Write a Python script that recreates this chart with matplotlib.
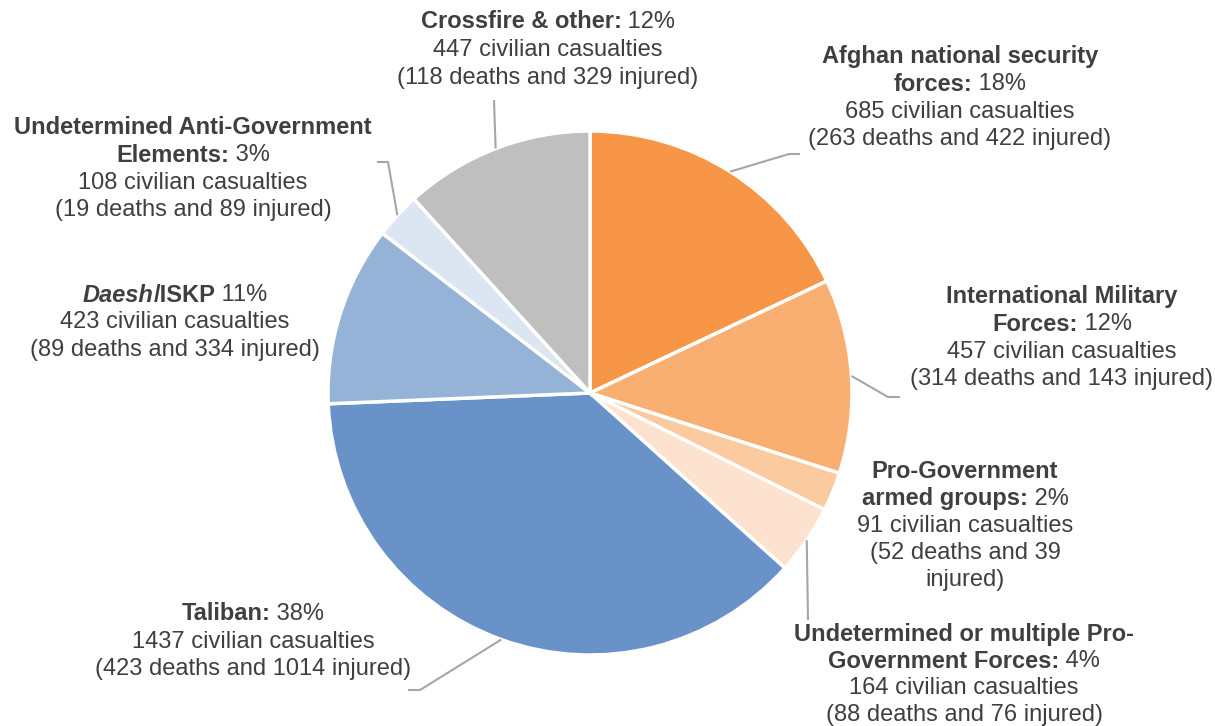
import matplotlib
matplotlib.use("Agg")
import matplotlib.pyplot as plt
import numpy as np

W, H = 1215, 726

# data: casualties by party, clockwise from 12 o'clock
parties = ["Afghan national security forces", "International Military Forces",
           "Pro-Government armed groups", "Undetermined or multiple Pro-Government Forces",
           "Taliban", "Daesh/ISKP", "Undetermined Anti-Government Elements",
           "Crossfire & other"]
casualties = [685, 457, 91, 164, 1437, 423, 108, 447]
deaths = [263, 314, 52, 88, 423, 89, 19, 118]
injured = [422, 143, 39, 76, 1014, 334, 89, 329]
percents = [18, 12, 2, 4, 38, 11, 3, 12]
colors = ["#F79646", "#F9AF72", "#FBCA9E", "#FDE3CF",
          "#6993C8", "#95B3D7", "#DCE6F2", "#BFBFBF"]

plt.rcParams['font.family'] = ['Liberation Sans', 'DejaVu Sans']
TXT = "#3F3F3F"
LINE = "#A6A6A6"
FS = 17

fig = plt.figure(figsize=(W / 100, H / 100), dpi=100)
ax = fig.add_axes([0, 0, 1, 1])

def Y(y):
    return H - y

cx, cy, r = 590, Y(393), 262
wedges, _ = ax.pie(casualties, colors=colors, startangle=90, counterclock=False,
                   center=(cx, cy), radius=r, frame=True,
                   wedgeprops=dict(edgecolor="white", linewidth=2.5))
ax.set_xlim(0, W)
ax.set_ylim(0, H)
ax.set_aspect("equal")
ax.axis("off")

renderer = fig.canvas.get_renderer()

def label(xc, ytop, lines, dy=27.5, fs=FS):
    for i, segs in enumerate(lines):
        y = Y(ytop + i * dy)
        texts = []
        for s, w, st in segs:
            t = ax.text(0, y, s, fontsize=fs, fontweight=w, fontstyle=st,
                        color=TXT, ha="left", va="center")
            texts.append(t)
        widths = [t.get_window_extent(renderer).width for t in texts]
        x = xc - sum(widths) / 2
        for t, wd in zip(texts, widths):
            t.set_x(x)
            x += wd

def reg(s):
    return (s, "normal", "normal")

def bold(s):
    return (s, "bold", "normal")

def cas(i):
    return [[reg("%d civilian casualties" % casualties[i])],
            [reg("(%d deaths and %d injured)" % (deaths[i], injured[i]))]]

label(960, 57, [[bold("Afghan national security")],
                [bold("forces:"), reg(" %d%%" % percents[0])]] + cas(0))
label(1062, 297, [[bold("International Military")],
                  [bold("Forces:"), reg(" %d%%" % percents[1])]] + cas(1))
label(965, 472, [[bold("Pro-Government")],
                 [bold("armed groups:"), reg(" %d%%" % percents[2])],
                 [reg("%d civilian casualties" % casualties[2])],
                 [reg("(%d deaths and %d" % (deaths[2], injured[2]))],
                 [reg("injured)")]], dy=27)
label(964, 634, [[bold("Undetermined or multiple Pro-")],
                 [bold("Government Forces:"), reg(" %d%%" % percents[3])]] + cas(3), dy=27)
label(253, 614, [[bold("Taliban:"), reg(" %d%%" % percents[4])]] + cas(4))
label(175, 295, [[("Daesh", "bold", "italic"), bold("/ISKP"), reg(" %d%%" % percents[5])]] + cas(5))
label(193, 128, [[bold("Undetermined Anti-Government")],
                 [bold("Elements:"), reg(" %d%%" % percents[6])]] + cas(6), dy=27.3)
label(548, 22, [[bold("Crossfire & other:"), reg(" %d%%" % percents[7])]] + cas(7), dy=28)

# leader lines: start at wedge mid-angle on the rim
def rim(i):
    w = wedges[i]
    a = np.deg2rad((w.theta1 + w.theta2) / 2)
    return cx + r * np.cos(a), cy + r * np.sin(a)

leaders = {0: [(789, 154), (800, 154)],
           1: [(888, 397), (900, 397)],
           3: [(808, 620)],
           4: [(420, 690), (408, 690)],
           6: [(388, 162), (377, 162)],
           7: [(494, 100)]}
for i, pts in leaders.items():
    x0, y0 = rim(i)
    xs = [x0] + [p[0] for p in pts]
    ys = [y0] + [Y(p[1]) for p in pts]
    ax.plot(xs, ys, color=LINE, lw=1.5, solid_capstyle="butt")

fig.savefig("out.png", dpi=100, facecolor="white")
